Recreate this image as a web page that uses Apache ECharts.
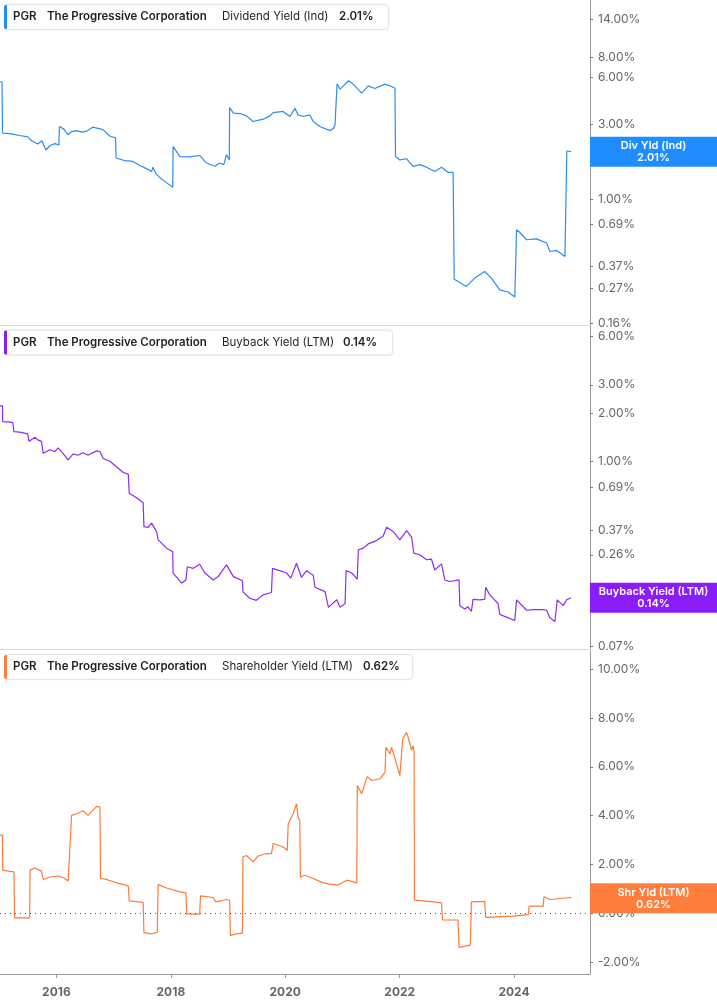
<!DOCTYPE html>
<html><head><meta charset="utf-8">
<script src="https://cdn.jsdelivr.net/npm/echarts@6/dist/echarts.min.js"></script>
<style>html,body{margin:0;padding:0;background:#fff;} #c{width:717px;height:1005px;}</style>
</head><body><div id="c"></div>
<script>
// ---------- DATA ----------
const divDates = ['2015-01-06','2015-01-19','2015-01-22','2015-03-09','2015-05-12','2015-07-02','2015-07-27','2015-08-16','2015-09-04','2015-09-30','2015-10-26','2015-11-21','2015-12-22','2016-01-17','2016-01-20','2016-02-18','2016-03-14','2016-04-08','2016-05-10','2016-06-11','2016-07-13','2016-08-20','2016-09-16','2016-10-24','2016-12-08','2017-01-13','2017-01-16','2017-03-12','2017-05-03','2017-06-17','2017-08-01','2017-08-31','2017-09-08','2017-09-27','2017-10-23','2017-12-05','2018-01-13','2018-01-15','2018-02-01','2018-02-28','2018-05-02','2018-06-03','2018-07-04','2018-08-16','2018-10-09','2018-11-10','2018-12-05','2018-12-22','2019-01-09','2019-01-11','2019-02-04','2019-03-17','2019-04-29','2019-06-10','2019-08-13','2019-09-25','2019-10-16','2019-12-19','2020-01-31','2020-03-03','2020-03-13','2020-03-23','2020-04-25','2020-06-06','2020-06-28','2020-08-09','2020-10-13','2020-11-03','2020-11-14','2020-11-19','2020-11-27','2020-12-16','2021-02-08','2021-03-10','2021-05-03','2021-06-14','2021-07-26','2021-09-29','2021-11-10','2021-12-02','2021-12-05','2022-01-02','2022-02-14','2022-03-27','2022-05-09','2022-06-21','2022-08-13','2022-09-25','2022-11-07','2022-12-08','2022-12-15','2023-01-20','2023-03-03','2023-04-25','2023-06-28','2023-08-09','2023-10-02','2023-11-24','2024-01-06','2024-01-14','2024-01-17','2024-02-07','2024-03-21','2024-05-24','2024-07-27','2024-08-17','2024-09-29','2024-11-21','2024-11-26','2024-12-03','2024-12-30'];
const divValues = [5.64,5.60,2.64,2.62,2.55,2.50,2.36,2.30,2.25,2.36,2.06,2.20,2.26,2.22,2.91,2.80,2.58,2.70,2.74,2.68,2.72,2.88,2.84,2.78,2.52,2.46,1.83,1.76,1.74,1.64,1.56,1.50,1.60,1.46,1.37,1.27,1.19,2.17,2.05,1.87,1.86,1.88,1.90,1.70,1.62,1.70,1.66,1.92,1.78,3.85,3.54,3.52,3.40,3.13,3.24,3.40,3.57,3.63,3.37,3.80,3.90,3.45,3.37,3.45,3.13,2.91,2.74,2.82,2.98,3.00,5.45,5.04,5.70,5.43,4.75,5.29,5.09,5.43,5.24,5.11,1.87,1.78,1.81,1.62,1.66,1.60,1.50,1.60,1.48,1.48,0.308,0.293,0.277,0.313,0.345,0.313,0.263,0.255,0.237,0.237,0.637,0.612,0.550,0.557,0.524,0.463,0.470,0.430,0.430,2.03,2.01];

const bbDates = ['2015-01-06','2015-01-22','2015-01-23','2015-02-25','2015-03-05','2015-03-29','2015-04-05','2015-05-12','2015-07-02','2015-07-10','2015-08-16','2015-09-04','2015-09-28','2015-10-09','2015-11-21','2015-12-22','2016-01-13','2016-02-12','2016-03-16','2016-04-17','2016-05-17','2016-06-20','2016-07-21','2016-09-14','2016-10-05','2016-10-26','2016-12-08','2017-01-20','2017-03-03','2017-04-04','2017-04-10','2017-05-27','2017-07-08','2017-07-13','2017-08-07','2017-08-31','2017-10-02','2017-10-12','2017-12-05','2018-01-13','2018-01-15','2018-01-27','2018-03-11','2018-04-07','2018-04-16','2018-05-24','2018-07-04','2018-08-06','2018-09-28','2018-10-30','2018-11-21','2018-12-22','2019-02-04','2019-04-03','2019-04-06','2019-05-19','2019-07-01','2019-08-13','2019-10-05','2019-10-12','2019-11-27','2020-01-09','2020-02-06','2020-03-13','2020-04-14','2020-05-16','2020-06-28','2020-07-09','2020-09-11','2020-10-03','2020-11-25','2020-12-16','2021-01-17','2021-01-24','2021-03-01','2021-04-05','2021-04-12','2021-05-14','2021-06-14','2021-08-06','2021-09-18','2021-10-09','2021-11-21','2022-01-02','2022-02-14','2022-03-18','2022-04-01','2022-05-09','2022-06-21','2022-07-23','2022-08-13','2022-09-25','2022-10-16','2022-11-17','2023-01-15','2023-01-20','2023-02-20','2023-03-13','2023-04-04','2023-04-14','2023-05-27','2023-06-28','2023-07-04','2023-07-30','2023-09-21','2023-10-02','2023-11-14','2024-01-06','2024-01-17','2024-03-21','2024-05-02','2024-07-05','2024-07-27','2024-08-17','2024-09-18','2024-10-03','2024-11-10','2024-12-02','2024-12-30'];
const bbValues = [2.22,2.22,1.77,1.76,1.80,1.74,1.53,1.52,1.48,1.33,1.41,1.36,1.33,1.12,1.18,1.15,1.21,1.12,1.02,1.11,1.09,1.13,1.09,1.16,1.15,1.04,1.00,0.92,0.85,0.83,0.63,0.59,0.55,0.39,0.385,0.41,0.363,0.322,0.286,0.272,0.200,0.204,0.173,0.181,0.219,0.214,0.227,0.200,0.181,0.190,0.204,0.225,0.190,0.179,0.153,0.139,0.135,0.146,0.151,0.214,0.207,0.200,0.186,0.230,0.188,0.207,0.194,0.163,0.153,0.122,0.136,0.122,0.129,0.207,0.200,0.183,0.279,0.286,0.304,0.319,0.341,0.387,0.363,0.322,0.368,0.335,0.266,0.260,0.242,0.244,0.209,0.228,0.181,0.177,0.181,0.125,0.119,0.123,0.115,0.137,0.136,0.137,0.163,0.146,0.129,0.110,0.106,0.101,0.136,0.117,0.118,0.118,0.117,0.105,0.0995,0.136,0.125,0.136,0.14];

const shrDates = ['2015-01-06','2015-01-22','2015-01-23','2015-03-09','2015-04-05','2015-04-09','2015-07-14','2015-07-17','2015-08-16','2015-09-28','2015-10-09','2015-11-21','2016-01-13','2016-02-18','2016-03-16','2016-04-07','2016-05-09','2016-06-20','2016-07-21','2016-09-14','2016-10-05','2016-10-09','2016-11-17','2017-01-20','2017-04-04','2017-04-10','2017-07-08','2017-07-13','2017-08-31','2017-10-06','2017-10-12','2017-12-05','2018-02-28','2018-04-07','2018-04-12','2018-07-04','2018-07-09','2018-09-28','2018-10-15','2018-12-22','2019-01-11','2019-01-16','2019-02-22','2019-04-03','2019-04-06','2019-04-29','2019-06-10','2019-07-12','2019-09-04','2019-10-05','2019-10-16','2019-12-19','2020-01-14','2020-01-20','2020-02-21','2020-03-13','2020-03-23','2020-04-03','2020-04-07','2020-05-05','2020-06-28','2020-08-31','2020-10-13','2020-12-05','2021-01-28','2021-04-02','2021-04-05','2021-05-03','2021-06-08','2021-07-06','2021-08-28','2021-09-29','2021-10-05','2021-10-31','2021-11-10','2021-12-12','2022-01-02','2022-01-13','2022-01-20','2022-02-14','2022-02-24','2022-03-18','2022-03-27','2022-04-03','2022-04-05','2022-06-21','2022-09-25','2022-10-01','2023-01-08','2023-01-15','2023-03-03','2023-03-28','2023-04-04','2023-06-28','2023-07-04','2023-12-26','2024-04-01','2024-04-07','2024-07-05','2024-07-10','2024-08-17','2024-10-20','2024-12-27','2024-12-30'];
const shrValues = [3.20,3.20,1.77,1.72,1.70,-0.18,-0.18,1.77,1.86,1.73,1.39,1.49,1.53,1.45,1.33,4.01,4.08,4.20,4.01,4.38,4.35,1.43,1.39,1.25,1.13,0.51,0.45,-0.79,-0.84,-0.77,1.18,1.04,0.88,0.84,-0.03,-0.03,0.72,0.65,0.47,0.57,0.53,-0.91,-0.84,-0.81,2.31,2.37,2.11,2.35,2.45,2.45,2.86,2.72,2.58,3.67,4.08,4.49,3.94,3.81,1.49,1.56,1.43,1.25,1.20,1.16,1.36,1.25,5.24,4.90,5.60,5.44,5.51,5.78,6.80,6.53,6.80,6.12,5.64,5.64,7.14,7.41,7.20,6.67,6.87,6.60,0.54,0.50,0.43,-0.27,-0.27,-1.39,-1.33,-1.30,0.47,0.49,-0.16,-0.11,-0.05,0.30,0.30,0.68,0.57,0.61,0.65,0.62];

const divTicks = [14, 8, 6, 3, 2, 1, 0.69, 0.37, 0.27, 0.16];
const bbTicks = [6, 3, 2, 1, 0.69, 0.37, 0.26, 0.14, 0.07];
const shrTicks = [10, 8, 6, 4, 2, 0, -2];
const yearTicks = ['2016-01-01','2018-01-01','2020-01-01','2022-01-01','2024-01-01'];

const divLatest = 2.01, bbLatest = 0.14, shrLatest = 0.62;
const panelNames = ['Dividend Yield (Ind)', 'Buyback Yield (LTM)', 'Shareholder Yield (LTM)'];
const tagNames = ['Div Yld (Ind)', 'Buyback Yield (LTM)', 'Shr Yld (LTM)'];

// ---------- CHART ----------
const C_DIV = '#1f8cff', C_BB = '#8a1cf7', C_SHR = '#ff7e3e';
const L_DIV = '#2a8df5', L_BB = '#8c2cf5', L_SHR = '#ff7a38';
const chart = echarts.init(document.getElementById('c'), null, {renderer: 'canvas'});
const xMin = '2015-01-06', xMax = '2025-04-30';
const lg = v => Math.log10(v);
const ts = d => { const p = d.split('-'); return new Date(+p[0], +p[1]-1, +p[2]).getTime(); };

function hiddenX(i) {
  return {type:'value', gridIndex:i, min:ts(xMin), max:ts(xMax), position:'bottom',
    axisLine:{show:true, onZero:false, lineStyle:{color:'#d6d6d6', width:1}},
    axisTick:{show:false}, axisLabel:{show:false}, splitLine:{show:false}};
}
const yLabel = {color:'#666', fontSize:12, fontFamily:'Inter', margin:8};
function logY(i, mn, mx, ticks) {
  return {type:'value', gridIndex:i, position:'right', min:lg(mn), max:lg(mx),
    axisLine:{show:true, onZero:false, lineStyle:{color:'#9a9a9a'}},
    axisTick:{show:true, length:3, lineStyle:{color:'#777'}, customValues: ticks.map(lg)},
    axisLabel:Object.assign({}, yLabel, {customValues: ticks.map(lg),
      formatter: v => Math.pow(10, v).toFixed(2) + '%'}),
    splitLine:{show:false}};
}

const option = {
  animation:false,
  textStyle:{fontFamily:'Inter'},
  grid:[
    {left:0, right:127, top:0, height:325},
    {left:0, right:127, top:326, height:323},
    {left:0, right:127, top:651, height:323}
  ],
  xAxis:[hiddenX(0), hiddenX(1),
    {type:'value', gridIndex:2, min:ts(xMin), max:ts(xMax), position:'bottom',
     axisLine:{show:true, onZero:false, lineStyle:{color:'#9a9a9a'}},
     axisTick:{show:true, length:4, lineStyle:{color:'#9a9a9a'}, customValues: yearTicks.map(ts)},
     axisLabel:{customValues: yearTicks.map(ts), color:'#666', fontWeight:'bold', fontSize:12, fontFamily:'Inter', margin:12,
       formatter: v => String(new Date(v).getFullYear())},
     splitLine:{show:false}}
  ],
  yAxis:[
    logY(0, 0.157, 18.7, divTicks),
    logY(1, 0.067, 7.0, bbTicks),
    {type:'value', gridIndex:2, position:'right', min:-2.48, max:10.74,
     axisLine:{show:true, onZero:false, lineStyle:{color:'#9a9a9a'}},
     axisTick:{show:true, length:3, lineStyle:{color:'#777'}, customValues: shrTicks},
     axisLabel:Object.assign({}, yLabel, {customValues: shrTicks, formatter: v => v.toFixed(2) + '%'}),
     splitLine:{show:false}}
  ],
  series:[
    {type:'line', xAxisIndex:0, yAxisIndex:0, showSymbol:false, symbol:'none',
     lineStyle:{color:L_DIV, width:1.2}, data: divDates.map((d,i)=>[ts(d), lg(divValues[i])])},
    {type:'line', xAxisIndex:1, yAxisIndex:1, showSymbol:false, symbol:'none',
     lineStyle:{color:L_BB, width:1.2}, data: bbDates.map((d,i)=>[ts(d), lg(bbValues[i])])},
    {type:'line', xAxisIndex:2, yAxisIndex:2, showSymbol:false, symbol:'none',
     lineStyle:{color:L_SHR, width:1.2}, data: shrDates.map((d,i)=>[ts(d), shrValues[i]]),
     markLine:{silent:true, symbol:'none', animation:false, label:{show:false},
       lineStyle:{color:'#555', type:[1,4], width:1}, data:[{yAxis:0}]}}
  ]
};
chart.setOption(option);

// ---------- legends and value tags ----------
const graphics = [];
function legend(top, w, color, name, value, valueX) {
  graphics.push({type:'rect', shape:{x:4.5, y:top+0.5, width:w, height:25, r:3}, z:50,
    style:{fill:'#fff', stroke:'#e4e4e4', lineWidth:1, shadowBlur:2, shadowColor:'rgba(0,0,0,0.06)'}});
  graphics.push({type:'rect', shape:{x:4, y:top+1, width:3, height:24, r:[2,0,0,2]}, z:51, style:{fill:color}});
  const cy = top + 13;
  const items = [[13,'PGR','600'],[47,'The Progressive Corporation','600'],[222,name,'400'],[valueX,value,'600']];
  items.forEach(it => graphics.push({type:'text', x:it[0], y:cy, z:52,
    style:{text:it[1], fill:'#1f1f1f', fontSize:11.5, fontWeight:it[2], fontFamily:'Inter', verticalAlign:'middle', align:'left'}}));
}
legend(4, 384, C_DIV, panelNames[0], divLatest.toFixed(2)+'%', 339);
legend(329.5, 388, C_BB, panelNames[1], bbLatest.toFixed(2)+'%', 343);
legend(654, 408, C_SHR, panelNames[2], shrLatest.toFixed(2)+'%', 363);

function tag(axisIdx, val, color, name, valueText) {
  const y = chart.convertToPixel({yAxisIndex:axisIdx}, val);
  graphics.push({type:'rect', shape:{x:590, y:y-15, width:127, height:30}, z:60, style:{fill:color}});
  graphics.push({type:'text', x:653.5, y:y, z:61,
    style:{text:name + '\n' + valueText, fill:'#fff', fontSize:11, fontWeight:'600', fontFamily:'Inter',
      align:'center', verticalAlign:'middle', lineHeight:12}});
}
tag(0, lg(divLatest), C_DIV, tagNames[0], divLatest.toFixed(2)+'%');
tag(1, lg(bbLatest), C_BB, tagNames[1], bbLatest.toFixed(2)+'%');
tag(2, shrLatest, C_SHR, tagNames[2], shrLatest.toFixed(2)+'%');
chart.setOption({graphic: graphics});
</script></body></html>
